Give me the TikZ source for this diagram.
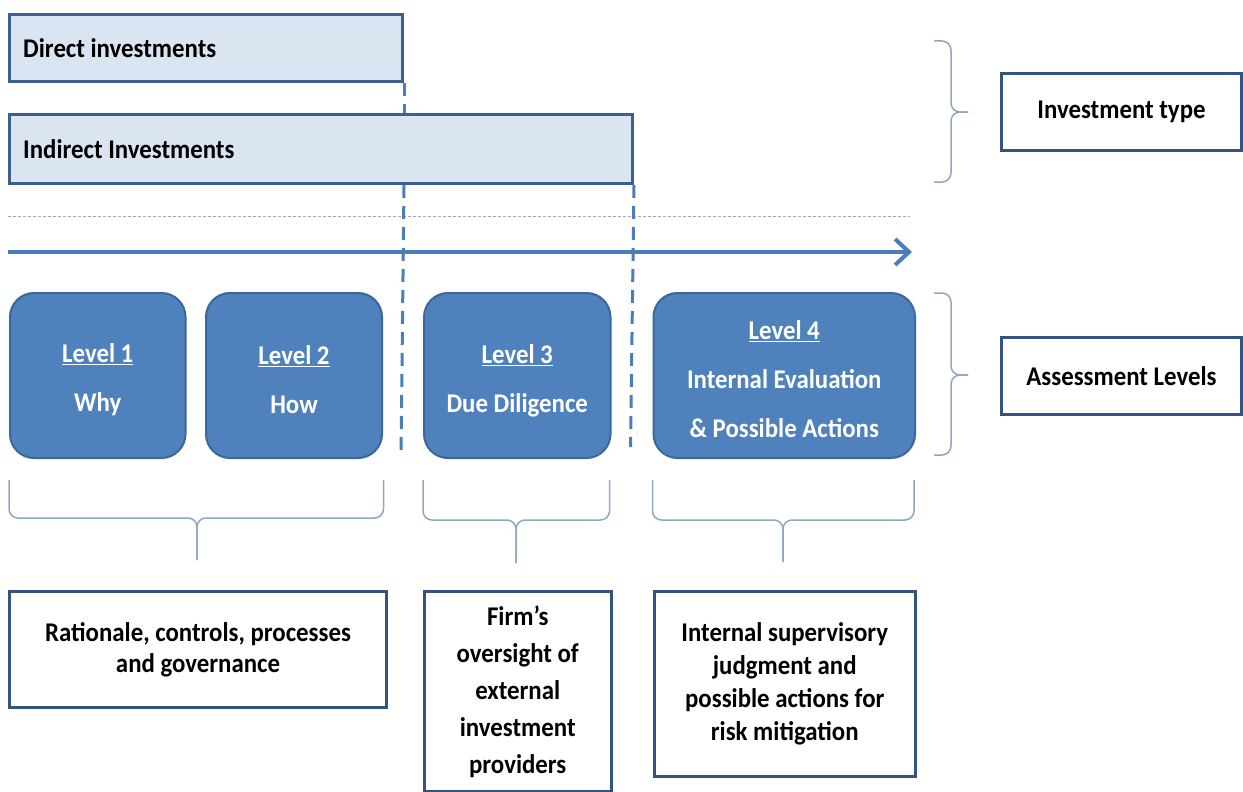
\documentclass[tikz,border=0pt]{standalone}
\usepackage{fontspec}
\setmainfont{Carlito}[FakeStretch=0.92]
\usetikzlibrary{arrows.meta,calc}

\definecolor{barfill}{HTML}{DBE5F1}
\definecolor{barline}{HTML}{3B5F8E}
\definecolor{lvfill}{HTML}{4F81BD}
\definecolor{lvline}{HTML}{3A679C}
\definecolor{flow}{HTML}{4A7EBB}
\definecolor{bracec}{HTML}{8FA6C6}
\definecolor{boxline}{HTML}{34537F}
\definecolor{dotc}{HTML}{A6A6A6}

\tikzset{
  txt/.style={font=\bfseries\fontsize{27}{#1}\selectfont},
  bar/.style={draw=barline, fill=barfill, line width=3pt, anchor=north west, inner sep=0pt},
  bartext/.style={anchor=west, inner sep=0pt, txt=30},
  level/.style={draw=lvline, fill=lvfill, line width=2pt, rounded corners=24pt,
    anchor=north west, inner sep=0pt, minimum height=165pt},
  leveltext/.style={text=white, align=center, inner sep=0pt, txt=49},
  note/.style={draw=boxline, fill=white, line width=3pt, align=center,
    anchor=north west, inner sep=0pt, text=black},
  vdash/.style={flow, line width=3pt, dash pattern=on 13pt off 8pt},
  brc/.style={bracec, line width=1.5pt, rounded corners=9pt},
}

\begin{document}
\begin{tikzpicture}[x=1pt, y=-1pt]
\useasboundingbox (0,0) rectangle (1243,792);

% ends of the split lines below the levels
\coordinate (d1end) at (401,457);
\coordinate (d2end) at (630.5,447);

% investment type bars
\node[bar, minimum width=393pt, minimum height=67pt] (direct) at (8,13) {};
\node[bartext] (directtxt) at ($(direct.west)+(15,0)$) {Direct investments};
\node[bar, minimum width=623pt, minimum height=69pt] (indirect) at (8,113) {};
\node[bartext] (indirecttxt) at ($(indirect.west)+(15,0)$) {Indirect Investments};

% timeline
\coordinate (dotA) at (8,216);
\coordinate (dotB) at (910,216);
\draw[dotc, line width=1pt, dash pattern=on 3pt off 2pt] (dotA) -- (dotB);
\coordinate (arrA) at (8,252);
\coordinate (arrB) at (912,252);
\draw[flow, line width=4pt, -{Straight Barb[length=14pt,width=26pt]}] (arrA) -- (arrB);

% assessment levels
\node[level, minimum width=175.5pt] (lev1) at (9,292) {};
\node[leveltext] (lev1txt) at ($(lev1.center)+(0,4)$) {\underline{Level 1}\\Why};
\node[level, minimum width=176pt] (lev2) at (205,292) {};
\node[leveltext] (lev2txt) at ($(lev2.center)+(0,4)$) {\underline{Level 2}\\How};
\node[level, minimum width=186.5pt] (lev3) at (423,292) {};
\node[leveltext] (lev3txt) at ($(lev3.center)+(0,5)$) {\underline{Level 3}\\Due Diligence};
\node[level, minimum width=261.5pt] (lev4) at (652.5,292) {};
\node[leveltext] (lev4txt) at ($(lev4.center)+(0,4)$)
  {\underline{Level 4}\\Internal Evaluation\\\& Possible Actions};

% dashed separators
\draw[vdash] (direct.south east) -- (direct.south east |- indirect.north);
\draw[vdash] (direct.south east |- indirect.south) -- (d1end);
\draw[vdash] (indirect.south east) -- (d2end);

% right-hand labels
\node[note, txt=30, minimum width=240pt, minimum height=77pt] (itype) at (1000,72)
  {Investment type};
\node[note, txt=30, minimum width=240pt, minimum height=77pt] (alev) at (1000,336)
  {Assessment Levels};

% right braces
\draw[brc] (934,41) -- (951,41) -- (951,112) -- (968,112);
\draw[brc] (934,182) -- (951,182) -- (951,112) -- (968,112);
\draw[brc] (934,293) -- (951,293) -- (951,375) -- (968,375);
\draw[brc] (934,455) -- (951,455) -- (951,375) -- (968,375);

% descriptions
\node[note, txt=31, minimum width=377pt, minimum height=116pt] (desc1) at (8,590)
  {Rationale, controls, processes\\and governance};
\node[note, txt=37, minimum width=186.5pt, minimum height=200pt] (desc2) at (423,590)
  {Firm’s\\oversight of\\external\\investment\\providers};
\node[note, txt=33, minimum width=261.5pt, minimum height=185pt] (desc3) at (652.5,590)
  {Internal supervisory\\judgment and\\possible actions for\\risk mitigation};

% bottom braces
\draw[brc] (9,480) -- (9,518) -- (197,518) -- (197,560);
\draw[brc] (383.5,480) -- (383.5,518) -- (197,518) -- (197,560);
\draw[brc] (423,480) -- (423,520) -- (516,520) -- (516,563);
\draw[brc] (609.5,480) -- (609.5,520) -- (516,520) -- (516,563);
\draw[brc] (652.5,480) -- (652.5,520) -- (783,520) -- (783,562);
\draw[brc] (914,480) -- (914,520) -- (783,520) -- (783,562);
\end{tikzpicture}
\end{document}
